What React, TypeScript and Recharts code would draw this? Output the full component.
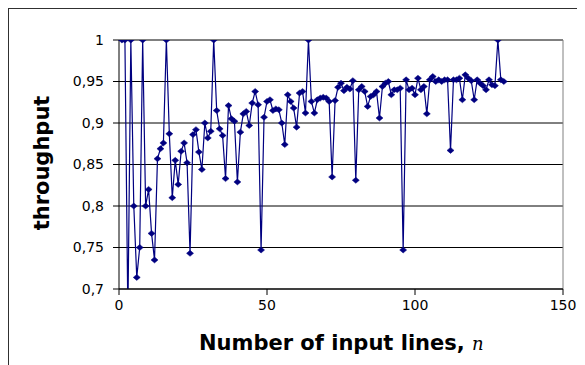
import React from "react";
import { LineChart, Line, XAxis, YAxis, CartesianGrid, ReferenceLine } from "recharts";

const nValues = [
  1, 2, 3, 4, 5, 6, 7, 8, 9, 10, 11, 12, 13, 14, 15, 16, 17, 18, 19, 20,
  21, 22, 23, 24, 25, 26, 27, 28, 29, 30, 31, 32, 33, 34, 35, 36, 37, 38, 39, 40,
  41, 42, 43, 44, 45, 46, 47, 48, 49, 50, 51, 52, 53, 54, 55, 56, 57, 58, 59, 60,
  61, 62, 63, 64, 65, 66, 67, 68, 69, 70, 71, 72, 73, 74, 75, 76, 77, 78, 79, 80,
  81, 82, 83, 84, 85, 86, 87, 88, 89, 90, 91, 92, 93, 94, 95, 96, 97, 98, 99, 100,
  101, 102, 103, 104, 105, 106, 107, 108, 109, 110, 111, 112, 113, 114, 115, 116, 117, 118, 119, 120,
  121, 122, 123, 124, 125, 126, 127, 128, 129, 130,
];

const throughput = [
  1, 1, 0.667, 1, 0.8, 0.714, 0.75, 1, 0.8, 0.82,
  0.767, 0.735, 0.857, 0.869, 0.876, 1, 0.887, 0.81, 0.855, 0.826,
  0.866, 0.876, 0.852, 0.743, 0.886, 0.892, 0.865, 0.844, 0.9, 0.882,
  0.89, 1, 0.915, 0.893, 0.885, 0.833, 0.921, 0.905, 0.902, 0.829,
  0.889, 0.911, 0.914, 0.897, 0.924, 0.938, 0.922, 0.747, 0.907, 0.926,
  0.928, 0.915, 0.917, 0.916, 0.9, 0.874, 0.934, 0.926, 0.918, 0.895,
  0.936, 0.938, 0.912, 1, 0.926, 0.912, 0.928, 0.93, 0.931, 0.93,
  0.926, 0.835, 0.927, 0.943, 0.948, 0.939, 0.943, 0.941, 0.951, 0.831,
  0.94, 0.944, 0.938, 0.92, 0.932, 0.934, 0.938, 0.906, 0.944, 0.948,
  0.95, 0.934, 0.94, 0.94, 0.942, 0.747, 0.952, 0.94, 0.942, 0.934,
  0.954, 0.94, 0.944, 0.911, 0.952, 0.956, 0.95, 0.952, 0.95, 0.952,
  0.952, 0.867, 0.952, 0.952, 0.954, 0.928, 0.958, 0.954, 0.951, 0.928,
  0.952, 0.948, 0.945, 0.94, 0.952, 0.946, 0.945, 1, 0.952, 0.95,
];

const xTicks = [0, 50, 100, 150];
const yTicks = [0.7, 0.75, 0.8, 0.85, 0.9, 0.95, 1];
const yTickLabels = ["0,7", "0,75", "0,8", "0,85", "0,9", "0,95", "1"];

const data = nValues.map((n, i) => ({ n, t: throughput[i] }));

const NAVY = "#000080";
const FONT = "DejaVu Sans";

const Diamond = (props: any) => {
  const { cx, cy, index } = props;
  if (cx == null || cy == null || isNaN(cx) || isNaN(cy)) return <g key={index} />;
  return (
    <path
      key={index}
      d={`M${cx - 3.5},${cy}L${cx},${cy - 3}L${cx + 3.5},${cy}L${cx},${cy + 3}Z`}
      fill={NAVY}
      stroke={NAVY}
      strokeWidth={0.5}
    />
  );
};

const yFmt = (v: number) => {
  const i = yTicks.findIndex((t) => Math.abs(t - v) < 1e-9);
  return i >= 0 ? yTickLabels[i] : String(v);
};

export default function App() {
  return (
    <div
      style={{
        position: "relative",
        width: 585,
        height: 365,
        margin: "-8px 0 0 -8px",
        overflow: "hidden",
        background: "#fff",
      }}
    >
      <div style={{ position: "absolute", left: 0, top: 0 }}>
        <LineChart
          width={585}
          height={365}
          data={data}
          margin={{ top: 40, right: 22, bottom: 46, left: 59 }}
        >
          <CartesianGrid vertical={false} stroke="#000" strokeWidth={1} />
          <ReferenceLine y={1} stroke="#808080" strokeWidth={1} />
          <ReferenceLine x={150} stroke="#808080" strokeWidth={1} />
          <XAxis
            type="number"
            dataKey="n"
            domain={[0, 150]}
            ticks={xTicks}
            interval={0}
            height={30}
            tickSize={6}
            tickMargin={5}
            stroke="#000"
            tick={{ fill: "#000", fontSize: 14, fontFamily: FONT }}
            axisLine={{ stroke: "#000" }}
            tickLine={{ stroke: "#000" }}
          />
          <YAxis
            type="number"
            domain={[0.7, 1]}
            ticks={yTicks}
            interval={0}
            allowDataOverflow
            width={60}
            tickSize={6}
            tickMargin={9}
            tickFormatter={yFmt}
            stroke="#000"
            tick={{ fill: "#000", fontSize: 14, fontFamily: FONT }}
            axisLine={{ stroke: "#000" }}
            tickLine={{ stroke: "#000" }}
          />
          <Line
            type="linear"
            dataKey="t"
            stroke={NAVY}
            strokeWidth={1.2}
            dot={Diamond}
            activeDot={false}
            isAnimationActive={false}
          />
        </LineChart>
      </div>
      <svg
        width={585}
        height={365}
        style={{ position: "absolute", left: 0, top: 0, pointerEvents: "none" }}
      >
        <rect x={8} y={8} width={600} height={400} fill="none" stroke="#303030" strokeWidth={2} />
        <text
          transform="translate(49,163) rotate(-90)"
          textAnchor="middle"
          fontFamily={FONT}
          fontWeight="bold"
          fontSize={21}
          fill="#000"
        >
          throughput
        </text>
        <text x={199} y={350} fontFamily={FONT} fontWeight="bold" fontSize={21} fill="#000">
          Number of input lines,{" "}
          <tspan fontStyle="italic" fontWeight="normal" fontFamily="DejaVu Serif" fontSize={18}>
            n
          </tspan>
        </text>
      </svg>
    </div>
  );
}
